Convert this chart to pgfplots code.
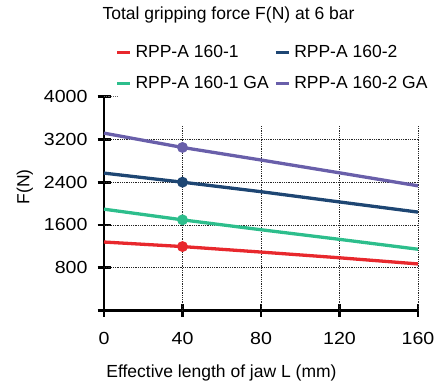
\documentclass[border=0pt]{standalone}
\usepackage{pgfplots}
\pgfplotsset{compat=1.18}
\usepackage{fontspec}
\setmainfont{Liberation Sans}
\newfontfamily\tickfont[FakeStretch=1.12]{Liberation Sans}
\definecolor{cred}{RGB}{232,40,45}
\definecolor{cblue}{RGB}{30,70,115}
\definecolor{cgreen}{RGB}{45,190,140}
\definecolor{cpurple}{RGB}{105,95,170}
\newcommand{\lbl}{\fontsize{17.5}{20}\selectfont}
\begin{document}
\begin{tikzpicture}
\begin{axis}[
 scale only axis, width=314pt, height=213.7pt,
 xmin=0, xmax=160, ymin=0, ymax=4000,
 axis lines=left,
 axis line style={-, line width=2.8pt, black},
 xtick={0,40,80,120,160},
 ytick={0,800,1600,2400,3200,4000},
 yticklabels={,800,1600,2400,3200,4000},
 xticklabels={0,40,80,120,160},
 tick align=center, major tick length=13pt,
 every tick/.style={black, line width=2.8pt},
 tick label style={font=\fontsize{17.5}{20}\selectfont\tickfont},
 x tick label style={yshift=-12pt},
 y tick label style={xshift=-6.5pt},
 /pgf/number format/assume math mode=true,
 clip=false,
 legend columns=2,
 legend cell align=left,
 legend image code/.code={\draw[line width=3.3pt] (0pt,0pt) -- (12.7pt,0pt);},
 legend style={at={(rel axis cs:0.036,1.2466)}, anchor=north west, draw=none, fill=none,
   font=\lbl, inner sep=0pt, row sep=14pt,
   nodes={inner sep=1.5pt},
   /tikz/every odd column/.append style={column sep=2.5pt},
   /tikz/every even column/.append style={column sep=4pt}},
 every axis plot/.append style={line width=3.3pt, mark=*, mark size=3.7pt, mark indices={2}},
]
% grid
\draw[black!85, densely dotted, line width=0.8pt] (axis cs:40,0) -- (axis cs:40,3455);
\draw[black!85, densely dotted, line width=0.8pt] (axis cs:80,0) -- (axis cs:80,3455);
\draw[black!85, densely dotted, line width=0.8pt] (axis cs:120,0) -- (axis cs:120,3455);
\draw[black!85, densely dotted, line width=0.8pt] (axis cs:160,0) -- (axis cs:160,3455);
\draw[black!85, densely dotted, line width=0.8pt] (axis cs:0,800) -- (axis cs:160,800);
\draw[black!85, densely dotted, line width=0.8pt] (axis cs:0,1600) -- (axis cs:160,1600);
\draw[black!85, densely dotted, line width=0.8pt] (axis cs:0,2400) -- (axis cs:160,2400);
\draw[black!85, densely dotted, line width=0.8pt] (axis cs:0,3200) -- (axis cs:160,3200);
\draw[black!60, densely dotted, line width=0.8pt] (axis cs:0,4000) -- (axis cs:7,4000);

\addplot[cred] coordinates {(0,1280)(40,1195)(80,1092)(120,985)(160,870)};
\addlegendentry{RPP-A 160-1}
\addplot[cblue] coordinates {(0,2570)(40,2400)(80,2222)(120,2030)(160,1840)};
\addlegendentry{RPP-A 160-2}
\addplot[cgreen] coordinates {(0,1895)(40,1695)(80,1510)(120,1330)(160,1145)};
\addlegendentry{RPP-A 160-1 GA}
\addplot[cpurple] coordinates {(0,3318)(40,3050)(80,2815)(120,2575)(160,2332)};
\addlegendentry{RPP-A 160-2 GA}

\node[font=\lbl, anchor=base] at (rel axis cs:0.3965,1.359) {Total gripping force F(N) at 6 bar};
\node[font=\lbl, anchor=base] at (rel axis cs:0.374,-0.313) {Effective length of jaw L (mm)};
\node[font=\lbl, rotate=90] at (rel axis cs:-0.252,0.579) {F(N)};
\coordinate (bl) at (rel axis cs:-0.3312,-0.3444);
\coordinate (tr) at (rel axis cs:1.0732,1.4525);
\end{axis}
\pgfresetboundingbox
\useasboundingbox (bl) rectangle (tr);
\end{tikzpicture}
\end{document}
